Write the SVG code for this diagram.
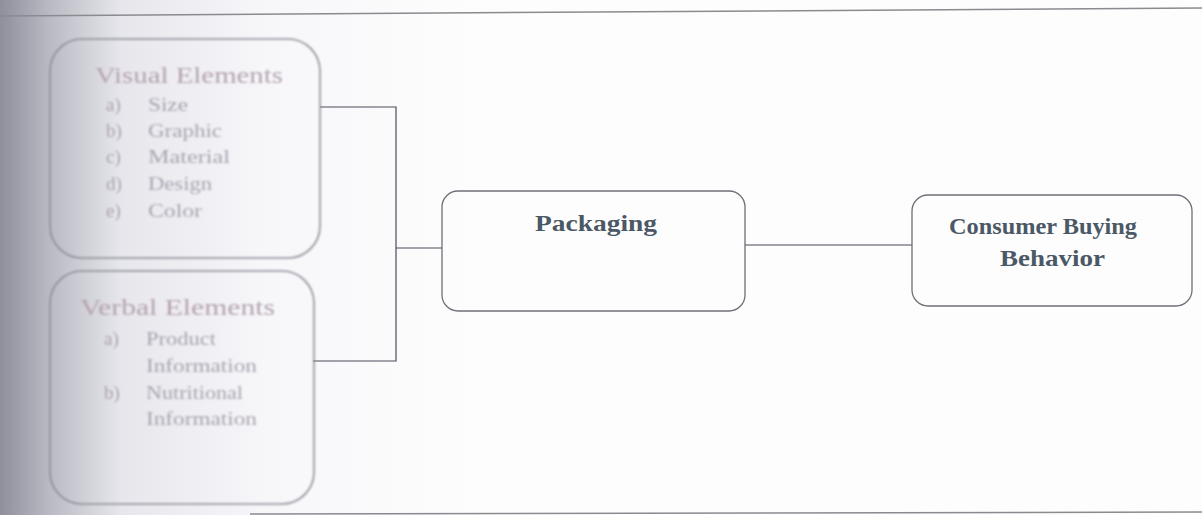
<svg xmlns="http://www.w3.org/2000/svg" width="1202" height="515" viewBox="0 0 1202 515">
<style>
.box{fill:none;stroke:#6e7078;stroke-width:1.3}
.blurbox{fill:none;stroke:#8c8e96;stroke-width:1.6}
.con{fill:none;stroke:#4a4d5a;stroke-width:1.2}
.title{font-family:"Liberation Serif",serif;font-weight:bold;fill:#4b5866}
.soft{font-family:"Liberation Serif",serif;fill:#aaa4b0;font-size:19px}
.softh{font-family:"Liberation Serif",serif;fill:#b5a3b0;font-size:23px}
</style>
<defs>
<linearGradient id="bg" x1="0" y1="0" x2="1" y2="0">
<stop offset="0" stop-color="#8f8f9c"/>
<stop offset="0.04" stop-color="#b9b9c3"/>
<stop offset="0.1" stop-color="#e6e6ec"/>
<stop offset="0.22" stop-color="#f7f7fa"/>
<stop offset="0.4" stop-color="#fdfdfd"/>
<stop offset="1" stop-color="#fdfdfd"/>
</linearGradient>
<filter id="blur" x="-10%" y="-10%" width="120%" height="120%"><feGaussianBlur stdDeviation="1.1"/></filter>
</defs>
<rect x="0" y="0" width="1202" height="515" fill="url(#bg)"/>
<line x1="0" y1="16" x2="1202" y2="8" stroke="#8a8a90" stroke-width="1.5"/>
<line x1="250" y1="514" x2="1202" y2="512" stroke="#8a8a90" stroke-width="1.5"/>
<g id="connectors">
<polyline class="con" points="320,107 396,107 396,361 313,361"/>
<line class="con" x1="396" y1="248" x2="442" y2="248"/>
<line class="con" x1="745" y1="245" x2="912" y2="245"/>
</g>
<g id="visual" filter="url(#blur)">
<rect class="blurbox" x="50" y="39" width="270" height="219" rx="32"/>
<text class="softh" x="95" y="83" textLength="188" lengthAdjust="spacingAndGlyphs">Visual Elements</text>
<g class="soft">
<text x="106" y="111">a)</text><text x="148" y="111" textLength="40" lengthAdjust="spacingAndGlyphs">Size</text>
<text x="106" y="137">b)</text><text x="148" y="137" textLength="74" lengthAdjust="spacingAndGlyphs">Graphic</text>
<text x="106" y="163">c)</text><text x="148" y="163" textLength="82" lengthAdjust="spacingAndGlyphs">Material</text>
<text x="106" y="190">d)</text><text x="148" y="190" textLength="64" lengthAdjust="spacingAndGlyphs">Design</text>
<text x="106" y="217">e)</text><text x="148" y="217" textLength="54" lengthAdjust="spacingAndGlyphs">Color</text>
</g>
</g>
<g id="verbal" filter="url(#blur)">
<rect class="blurbox" x="50" y="271" width="264" height="233" rx="32"/>
<text class="softh" x="80" y="315" textLength="195" lengthAdjust="spacingAndGlyphs">Verbal Elements</text>
<g class="soft">
<text x="104" y="345">a)</text><text x="146" y="345" textLength="70" lengthAdjust="spacingAndGlyphs">Product</text>
<text x="146" y="372" textLength="111" lengthAdjust="spacingAndGlyphs">Information</text>
<text x="104" y="399">b)</text><text x="146" y="399" textLength="97" lengthAdjust="spacingAndGlyphs">Nutritional</text>
<text x="146" y="425" textLength="111" lengthAdjust="spacingAndGlyphs">Information</text>
</g>
</g>
<g id="packaging">
<rect class="box" x="442" y="191" width="303" height="120" rx="16"/>
<text class="title" x="535" y="231" font-size="24" textLength="122" lengthAdjust="spacingAndGlyphs">Packaging</text>
</g>
<g id="consumer">
<rect class="box" x="912" y="195" width="280" height="111" rx="16"/>
<text class="title" x="949" y="234" font-size="24" textLength="188" lengthAdjust="spacingAndGlyphs">Consumer Buying</text>
<text class="title" x="1000" y="266" font-size="24" textLength="105" lengthAdjust="spacingAndGlyphs">Behavior</text>
</g>
</svg>
